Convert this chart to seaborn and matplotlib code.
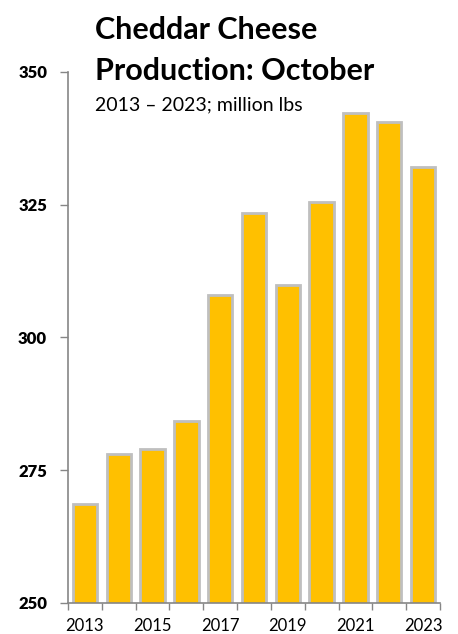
import matplotlib
matplotlib.use("Agg")
import matplotlib.pyplot as plt
import seaborn as sns
import pandas as pd
from matplotlib.ticker import FixedLocator

years = ["2013", "2014", "2015", "2016", "2017", "2018", "2019", "2020", "2021", "2022", "2023"]
production = [268.7, 278.0, 279.0, 284.3, 308.0, 323.4, 309.8, 325.6, 342.3, 340.5, 332.1]
y_ticks = [250, 275, 300, 325, 350]
x_labels = ["2013", "", "2015", "", "2017", "", "2019", "", "2021", "", "2023"]

sns.set_theme(style="white")
plt.rcParams["font.family"] = ["Lato", "DejaVu Sans"]

df = pd.DataFrame({"year": years, "value": production})

fig = plt.figure(figsize=(4.58, 6.34), dpi=100)
ax = fig.add_axes([68 / 458, 31 / 634, 372 / 458, 531 / 634])

sns.barplot(data=df, x="year", y="value", color="#FFC000", saturation=1,
            edgecolor="#BFBFBF", linewidth=2, width=0.72, ax=ax)

ax.set_ylim(250, 350)
ax.set_xlim(-0.5, len(years) - 0.5)
ax.set_yticks(y_ticks)
ax.set_yticklabels([str(v) for v in y_ticks])
for lbl in ax.get_yticklabels():
    lbl.set_fontweight("heavy")
    lbl.set_fontsize(12)
    lbl.set_color("black")
ax.tick_params(axis="y", direction="out", length=6, width=1, color="#868686", pad=9, left=True)

# category boundaries as major ticks, labels at centers as minor ticks
ax.xaxis.set_major_locator(FixedLocator([i - 0.5 for i in range(len(years) + 1)]))
ax.xaxis.set_minor_locator(FixedLocator(list(range(len(years)))))
ax.set_xticklabels([""] * (len(years) + 1))
ax.set_xticklabels(x_labels, minor=True, fontsize=12, color="black")
ax.tick_params(axis="x", which="major", direction="out", length=5, width=1, color="#868686", bottom=True)
ax.tick_params(axis="x", which="minor", length=0, pad=11)

ax.set_xlabel("")
ax.set_ylabel("")
for s in ["top", "right"]:
    ax.spines[s].set_visible(False)
for s in ["left", "bottom"]:
    ax.spines[s].set_color("#868686")
    ax.spines[s].set_linewidth(1.2)

fig.text(95 / 458, 1 - 39 / 634, "Cheddar Cheese", fontsize=22, fontweight="bold",
         ha="left", va="baseline", color="black")
fig.text(95 / 458, 1 - 80 / 634, "Production: October", fontsize=22, fontweight="bold",
         ha="left", va="baseline", color="black")
fig.text(95 / 458, 1 - 110 / 634, "2013 \u2013 2023; million lbs", fontsize=14,
         ha="left", va="baseline", color="black")

fig.savefig("out.png", dpi=100)
